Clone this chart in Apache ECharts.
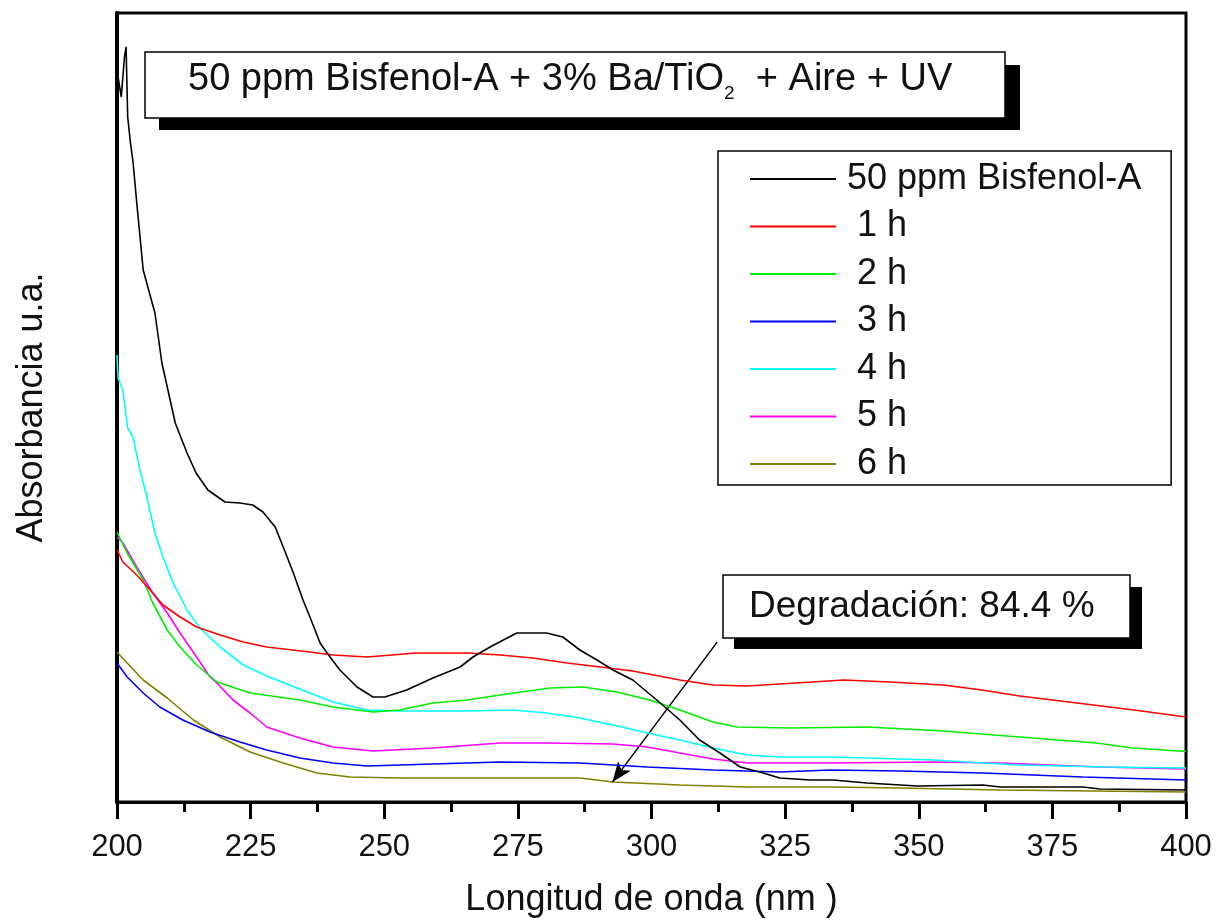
<!DOCTYPE html>
<html>
<head>
<meta charset="utf-8">
<script src="https://cdn.jsdelivr.net/npm/echarts@6/dist/echarts.min.js"></script>
<style>
  html, body { margin: 0; padding: 0; background: #fff; }
  #chart { width: 1223px; height: 921px; }
</style>
</head>
<body>
<div id="chart"></div>
<script>
// wavelength (nm), absorbance (a.u.) pairs
const bpa = [
  [200.2, 1.45], [200.8, 1.41], [201.4, 1.49], [201.7, 1.51], [202.0, 1.37], [202.5, 1.32],
  [203.0, 1.28], [203.7, 1.198], [204.9, 1.064], [207.1, 0.978], [208.4, 0.878], [210.9, 0.758],
  [213.1, 0.698], [214.8, 0.658], [217.0, 0.624], [220.2, 0.600], [223.0, 0.598], [225.4, 0.594],
  [227.3, 0.580], [229.6, 0.550], [231.1, 0.510], [233.0, 0.458], [234.8, 0.404], [236.1, 0.370],
  [238.0, 0.318], [239.3, 0.298], [241.7, 0.264], [244.9, 0.230], [247.9, 0.210], [250.1, 0.210],
  [254.2, 0.224], [259.1, 0.248], [264.2, 0.270], [266.6, 0.290], [269.8, 0.310], [273.0, 0.328],
  [274.8, 0.338], [280.4, 0.338], [283.4, 0.330], [286.6, 0.304], [289.8, 0.284], [292.8, 0.264],
  [296.5, 0.244], [299.4, 0.218], [301.0, 0.204], [305.3, 0.164], [309.0, 0.124], [312.8, 0.098],
  [316.6, 0.070], [320.9, 0.058], [324.0, 0.048], [329.7, 0.044], [334.0, 0.044], [340.3, 0.038],
  [349.7, 0.032], [362.0, 0.034], [365.2, 0.030], [380.7, 0.030], [383.9, 0.026], [400, 0.024]
];
const h1 = [
  [200, 0.504], [201.1, 0.480], [203.7, 0.454], [206.2, 0.424], [208.6, 0.394], [211.8, 0.370],
  [214.9, 0.350], [219.3, 0.334], [223.6, 0.320], [228.0, 0.310], [236.1, 0.300], [240.4, 0.294],
  [246.8, 0.290], [256.0, 0.298], [265.5, 0.298], [271.7, 0.294], [277.8, 0.288], [284.2, 0.278],
  [290.4, 0.270], [296.5, 0.262], [305.3, 0.244], [311.5, 0.234], [317.9, 0.232], [330.0, 0.240],
  [336.0, 0.244], [344.6, 0.240], [354.6, 0.234], [361.8, 0.224], [368.9, 0.212], [379.6, 0.198],
  [390.3, 0.184], [400, 0.170]
];
const h2 = [
  [200, 0.540], [201.9, 0.498], [204.9, 0.444], [206.7, 0.398], [209.4, 0.344], [211.8, 0.310],
  [214.9, 0.274], [218.7, 0.240], [224.9, 0.218], [234.2, 0.204], [240.4, 0.190], [247.9, 0.180],
  [252.9, 0.184], [259.1, 0.198], [265.5, 0.204], [271.7, 0.214], [281.0, 0.228], [287.2, 0.230],
  [293.5, 0.220], [299.7, 0.204], [305.3, 0.184], [311.5, 0.160], [316.0, 0.150], [326.1, 0.148],
  [340.3, 0.150], [354.6, 0.142], [368.9, 0.130], [383.2, 0.118], [390.0, 0.108], [400, 0.101]
];
const h3 = [
  [200, 0.278], [201.9, 0.250], [204.9, 0.218], [208.0, 0.190], [212.3, 0.164], [217.4, 0.140],
  [223.0, 0.120], [228.0, 0.104], [234.2, 0.088], [240.4, 0.078], [246.8, 0.072], [259.1, 0.076],
  [271.7, 0.080], [286.6, 0.078], [299.2, 0.070], [311.5, 0.064], [324.0, 0.060], [333.4, 0.064],
  [346.5, 0.062], [362.0, 0.058], [380.7, 0.050], [400, 0.044]
];
const h4 = [
  [200, 0.894], [200.2, 0.848], [201.1, 0.824], [202.0, 0.748], [203.0, 0.730], [204.3, 0.664],
  [205.6, 0.610], [207.1, 0.538], [208.6, 0.490], [210.5, 0.438], [213.1, 0.384], [215.5, 0.348],
  [219.3, 0.310], [223.6, 0.274], [228.0, 0.252], [233.7, 0.228], [240.4, 0.200], [246.8, 0.184],
  [252.9, 0.182], [265.5, 0.182], [274.0, 0.184], [280.4, 0.178], [286.6, 0.168], [292.8, 0.154],
  [299.2, 0.138], [305.3, 0.124], [311.5, 0.108], [317.9, 0.094], [324.0, 0.090], [334.0, 0.090],
  [352.7, 0.084], [368.4, 0.074], [385.0, 0.070], [400, 0.068]
];
const h5 = [
  [200, 0.530], [201.1, 0.518], [203.7, 0.470], [206.7, 0.418], [209.4, 0.378], [211.8, 0.338],
  [214.9, 0.290], [217.4, 0.250], [218.7, 0.238], [221.7, 0.204], [224.9, 0.178], [228.0, 0.150],
  [234.2, 0.128], [240.4, 0.110], [247.9, 0.102], [259.1, 0.108], [271.7, 0.118], [280.4, 0.118],
  [292.8, 0.116], [299.2, 0.110], [305.3, 0.098], [311.5, 0.086], [317.9, 0.078], [333.4, 0.078],
  [352.7, 0.080], [365.2, 0.078], [383.9, 0.070], [400, 0.066]
];
const h6 = [
  [200, 0.300], [201.9, 0.278], [204.9, 0.244], [209.4, 0.208], [214.3, 0.164], [219.3, 0.130],
  [224.9, 0.100], [231.1, 0.078], [237.4, 0.058], [243.6, 0.050], [252.9, 0.048], [271.7, 0.048],
  [286.6, 0.048], [292.8, 0.040], [305.3, 0.034], [317.9, 0.030], [333.4, 0.030], [346.5, 0.028],
  [365.2, 0.024], [400, 0.020]
];

const seriesNames = ['50 ppm Bisfenol-A', '1 h', '2 h', '3 h', '4 h', '5 h', '6 h'];
const seriesData = [bpa, h1, h2, h3, h4, h5, h6];
const seriesColors = ['#000000', '#ff0000', '#00ee00', '#0000ff', '#00ffff', '#ff00ff', '#808000'];

const xTicks = [200, 225, 250, 275, 300, 325, 350, 375, 400];
// arrow of the degradation note: from the box down to the 6 h spectrum
const arrowFrom = [312.3, 0.32];
const arrowTo = [292.7, 0.040];

const font = 'Liberation Sans, Arial, sans-serif';
const chart = echarts.init(document.getElementById('chart'));

const series = seriesNames.map((name, i) => ({
  name: name,
  type: 'line',
  data: seriesData[i],
  symbol: 'none',
  z: 10 - i,
  lineStyle: { color: seriesColors[i], width: 1.6 },
  itemStyle: { color: seriesColors[i] }
}));

series[6].markLine = {
  silent: true,
  symbol: ['none', 'arrow'],
  symbolSize: [12, 20],
  label: { show: false },
  lineStyle: { color: '#000', width: 1.3, type: 'solid' },
  data: [[{ coord: arrowFrom }, { coord: arrowTo }]]
};

chart.setOption({
  animation: false,
  backgroundColor: '#fff',
  grid: {
    left: 117, top: 13, right: 37, bottom: 119,
    outerBoundsMode: 'none',
    show: true, borderColor: '#000', borderWidth: 3
  },
  xAxis: {
    type: 'value',
    min: xTicks[0],
    max: xTicks[xTicks.length - 1],
    interval: 25,
    name: 'Longitud de onda (nm )',
    nameLocation: 'middle',
    nameGap: 80,
    nameTextStyle: { fontSize: 36, color: '#111', fontFamily: font },
    axisLine: { lineStyle: { color: '#000', width: 3 } },
    axisTick: { show: true, inside: false, length: 17, lineStyle: { width: 3, color: '#000' } },
    minorTick: { show: true, splitNumber: 2, length: 10, lineStyle: { width: 3, color: '#000' } },
    axisLabel: { fontSize: 31, color: '#111', fontFamily: font, margin: 30 },
    splitLine: { show: false }
  },
  yAxis: {
    type: 'value',
    min: 0,
    max: 1.578,
    name: 'Absorbancia u.a.',
    nameLocation: 'middle',
    nameGap: 67,
    nameTextStyle: { fontSize: 36, color: '#111', fontFamily: font },
    axisLine: { show: true, lineStyle: { color: '#000', width: 4 } },
    axisTick: { show: false },
    axisLabel: { show: false },
    splitLine: { show: false }
  },
  legend: {
    orient: 'vertical',
    left: 718,
    top: 151,
    data: seriesNames,
    formatter: (name) => (name === seriesNames[0] ? name : ' ' + name),
    borderColor: '#000',
    borderWidth: 1.5,
    padding: [10, 30, 3, 31],
    itemWidth: 86,
    itemHeight: 26,
    itemGap: 11.5,
    itemStyle: { opacity: 0 },
    textStyle: { fontSize: 36, color: '#111', fontFamily: font, padding: [0, 0, 0, 6] },
    selectedMode: false
  },
  graphic: [
    { type: 'rect', shape: { x: 159, y: 65, width: 861, height: 65 }, style: { fill: '#000' } },
    { type: 'rect', shape: { x: 145, y: 52, width: 860, height: 66 },
      style: { fill: '#fff', stroke: '#000', lineWidth: 1.5 } },
    { type: 'text', left: 188, top: 61, style: {
        text: '{a|50 ppm Bisfenol-A + 3% Ba/TiO}{s|2}{a|  + Aire + UV}',
        rich: {
          a: { fontSize: 38, fill: '#111', fontFamily: font },
          s: { fontSize: 19, fill: '#111', fontFamily: font, padding: [27, 0, 0, 0] }
        }
      } },
    { type: 'rect', shape: { x: 734, y: 587, width: 408, height: 62 }, style: { fill: '#000' } },
    { type: 'rect', shape: { x: 723, y: 575, width: 407, height: 63 },
      style: { fill: '#fff', stroke: '#000', lineWidth: 1.5 } },
    { type: 'text', left: 749, top: 588, style: {
        text: 'Degradación: 84.4 %', fontSize: 37, fill: '#111', fontFamily: font
      } }
  ],
  series: series
});
</script>
</body>
</html>
